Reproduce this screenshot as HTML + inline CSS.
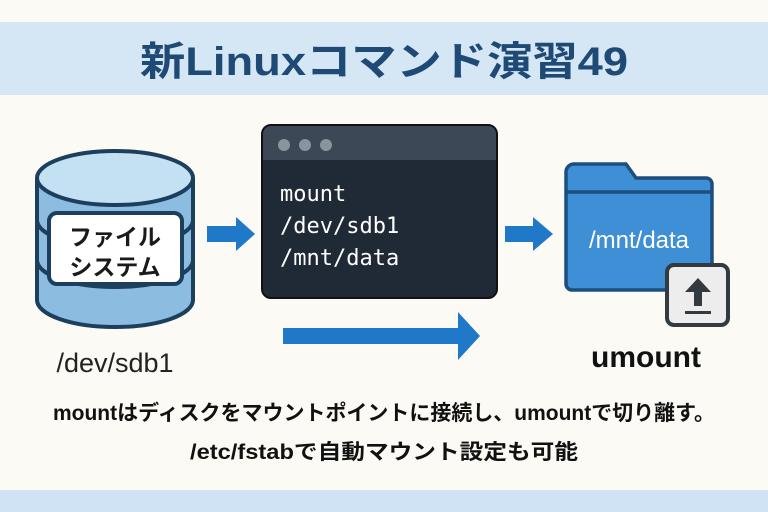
<!DOCTYPE html>
<html><head><meta charset="utf-8"><style>
html,body{margin:0;padding:0;background:#fbfaf5;}
svg{display:block;}
text{font-family:"Liberation Sans","Noto Sans CJK JP",sans-serif;}
.mono{font-family:"DejaVu Sans Mono","Liberation Mono",monospace;}
</style></head><body>
<svg width="768" height="512" viewBox="0 0 768 512">
<rect width="768" height="512" fill="#fbfaf5"/>
<rect x="0" y="22" width="768" height="73" fill="#d5e7f5"/>
<text x="384" y="75" text-anchor="middle" font-size="40" font-weight="bold" fill="#1f4a75" textLength="488" lengthAdjust="spacingAndGlyphs">新Linuxコマンド演習49</text>
<rect x="0" y="490" width="768" height="22" fill="#cfe3f4"/>

<!-- cylinder -->
<g stroke="#1d3f5e" stroke-width="4">
<path d="M37 178 V300 A78 27 0 0 0 193 300 V178" fill="#8cbde0"/>
<path d="M37 260 A78 27 0 0 0 193 260" fill="none"/>
<path d="M37 220 A78 27 0 0 0 193 220" fill="none"/>
<ellipse cx="115" cy="178" rx="78" ry="27" fill="#c4e0f3"/>
<rect x="49" y="213" width="133" height="71" rx="8" fill="#fff"/>
</g>
<text x="115" y="245" text-anchor="middle" font-size="23" font-weight="bold" fill="#1a1a1a">ファイル</text>
<text x="115" y="275" text-anchor="middle" font-size="23" font-weight="bold" fill="#1a1a1a">システム</text>
<text x="115" y="372" text-anchor="middle" font-size="27" fill="#222">/dev/sdb1</text>

<!-- arrows -->
<path d="M207 226 H236 V217 L255 234 L236 251 V242 H207 Z" fill="#1f78c8"/>
<path d="M505 226 H533 V217 L553 234 L533 251 V242 H505 Z" fill="#1f78c8"/>
<path d="M283 328 H458 V312 L480 336 L458 360 V344 H283 Z" fill="#1f78c8"/>

<!-- terminal -->
<rect x="262" y="125" width="235" height="173" rx="9" fill="#1f2a36" stroke="#111" stroke-width="2"/>
<path d="M271 126 H488 A8 8 0 0 1 496 134 V160 H263 V134 A8 8 0 0 1 271 126 Z" fill="#3c4855"/>
<circle cx="284" cy="145" r="6" fill="#8a949d"/>
<circle cx="305" cy="145" r="6" fill="#8a949d"/>
<circle cx="326" cy="145" r="6" fill="#8a949d"/>
<text class="mono" x="280" y="201" font-size="22" fill="#fff">mount</text>
<text class="mono" x="280" y="233" font-size="22" fill="#fff">/dev/sdb1</text>
<text class="mono" x="280" y="265" font-size="22" fill="#fff">/mnt/data</text>

<!-- folder -->
<path d="M574 164 H626 L636 178 H706 A6 6 0 0 1 712 184 V284 A6 6 0 0 1 706 290 H572 A6 6 0 0 1 566 284 V172 A8 8 0 0 1 574 164 Z" fill="#3f8fd6" stroke="#1d4f7e" stroke-width="3.5"/>
<line x1="567" y1="192" x2="711" y2="192" stroke="#1d4f7e" stroke-width="3.5"/>
<text x="639" y="248" text-anchor="middle" font-size="24" fill="#fff">/mnt/data</text>
<rect x="667" y="265" width="61" height="60" rx="7" fill="#ededed" stroke="#333a40" stroke-width="4"/>
<path d="M698 278 L711 292 H702 V306 H694 V292 H685 Z" fill="#333a40"/>
<rect x="685" y="311" width="26" height="3" fill="#333a40"/>
<text x="646" y="367" text-anchor="middle" font-size="30" font-weight="bold" fill="#111">umount</text>

<text x="384" y="420" text-anchor="middle" font-size="21" font-weight="bold" fill="#111" textLength="662" lengthAdjust="spacingAndGlyphs">mountはディスクをマウントポイントに接続し、umountで切り離す。</text>
<text x="384" y="459" text-anchor="middle" font-size="21" font-weight="bold" fill="#111" textLength="388" lengthAdjust="spacingAndGlyphs">/etc/fstabで自動マウント設定も可能</text>
</svg>
</body></html>
